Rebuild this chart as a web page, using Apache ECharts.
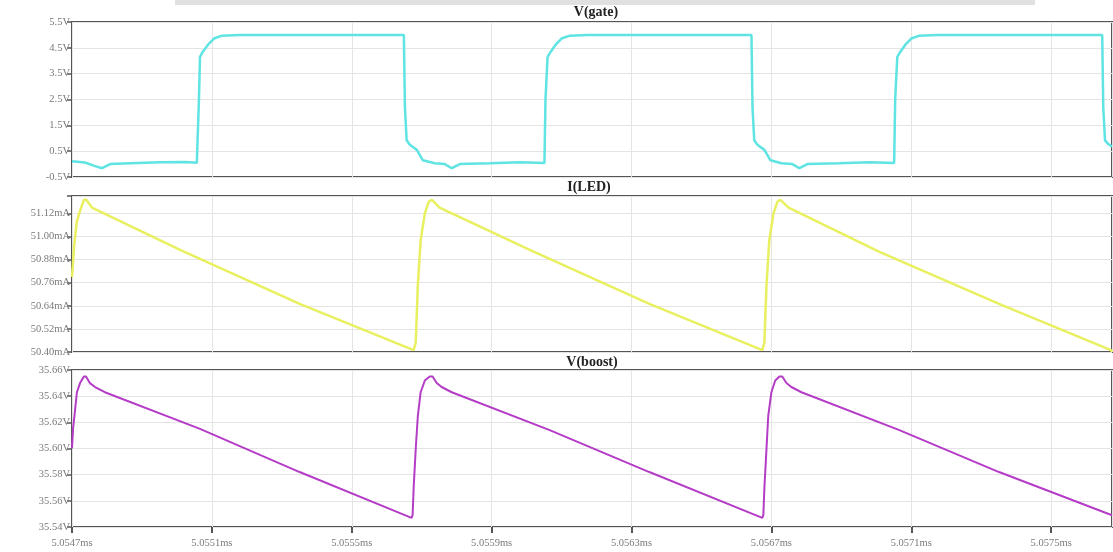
<!DOCTYPE html>
<html>
<head>
<meta charset="utf-8">
<script src="https://cdn.jsdelivr.net/npm/echarts@6/dist/echarts.min.js"></script>
<style>
  html, body { margin: 0; padding: 0; background: #ffffff; }
  #chart { width: 1113px; height: 552px; }
</style>
</head>
<body>
<div id="chart"></div>
<script>
// Time axis: nanoseconds after 5.0547 ms
const xTickLabels = ['5.0547ms', '5.0551ms', '5.0555ms', '5.0559ms', '5.0563ms', '5.0567ms', '5.0571ms', '5.0575ms'];
const xMaxNs = 2974;

// V(gate)
const gateT = [0, 37, 66, 86, 109, 166, 251, 323, 357, 363, 366, 374, 389, 406, 429, 480,
  949, 952, 957, 966, 986, 1003, 1037, 1066, 1086, 1109, 1194, 1280, 1351, 1354, 1360, 1369, 1383, 1400, 1423, 1474,
  1943, 1946, 1951, 1960, 1980, 1997, 2029, 2060, 2080, 2103, 2194, 2280, 2351, 2354, 2360, 2369, 2383, 2400, 2423, 2474,
  2946, 2949, 2954, 2963, 2974];
const gateV = [0.11, 0.06, -0.08, -0.16, 0.0, 0.03, 0.07, 0.08, 0.05, 2.5, 4.15, 4.35, 4.62, 4.86, 4.97, 5.0,
  5.0, 2.2, 0.92, 0.75, 0.55, 0.15, 0.03, 0.0, -0.16, 0.0, 0.03, 0.07, 0.04, 2.5, 4.15, 4.35, 4.62, 4.86, 4.97, 5.0,
  5.0, 2.2, 0.92, 0.75, 0.55, 0.15, 0.03, 0.0, -0.16, 0.0, 0.03, 0.07, 0.04, 2.5, 4.15, 4.35, 4.62, 4.86, 4.97, 5.0,
  5.0, 2.2, 0.92, 0.78, 0.68];

// I(LED) in mA
const ledT = [0, 6, 14, 26, 34, 41, 49, 57, 309, 651, 977, 983, 989, 997, 1009, 1020, 1029, 1034, 1051, 1309, 1651,
  1974, 1980, 1986, 1994, 2006, 2017, 2026, 2031, 2049, 2309, 2651, 2971, 2974];
const ledI = [50.79, 50.95, 51.08, 51.15, 51.19, 51.19, 51.17, 51.15, 50.93, 50.65, 50.41, 50.45, 50.75, 50.98, 51.12, 51.18, 51.19, 51.18, 51.15, 50.93, 50.65,
  50.41, 50.45, 50.75, 50.98, 51.12, 51.18, 51.19, 51.18, 51.15, 50.92, 50.65, 50.41, 50.40];

// V(boost)
const boostT = [0, 3, 9, 14, 23, 34, 40, 51, 66, 94, 366, 651, 971, 974, 977, 983, 989, 997, 1009, 1023, 1031, 1043, 1057, 1086, 1366, 1651,
  1974, 1977, 1980, 1986, 1991, 2000, 2011, 2023, 2031, 2043, 2057, 2086, 2366, 2651, 2974];
const boostV = [35.600, 35.615, 35.630, 35.643, 35.650, 35.655, 35.655, 35.650, 35.647, 35.643, 35.615, 35.582, 35.547, 35.549, 35.570, 35.600, 35.625, 35.643, 35.652, 35.655, 35.655, 35.650, 35.647, 35.643, 35.614, 35.582,
  35.547, 35.549, 35.570, 35.600, 35.625, 35.643, 35.652, 35.655, 35.655, 35.650, 35.647, 35.643, 35.614, 35.582, 35.549];

const panelTitles = ['V(gate)', 'I(LED)', 'V(boost)'];

function zip(a, b) { return a.map((v, i) => [v, b[i]]); }

const chart = echarts.init(document.getElementById('chart'), null, { renderer: 'canvas' });

const labelFont = { fontFamily: 'Liberation Serif', fontSize: 10.5, color: '#7a7a7a' };
const frame = { show: true, borderColor: '#555555', borderWidth: 2, backgroundColor: '#ffffff' };
const gridLine = { show: true, lineStyle: { color: '#e4e4e4', width: 1 } };

function xAxis(idx, showLabels) {
  return {
    type: 'value', gridIndex: idx, min: 0, max: xMaxNs, interval: 400,
    axisLine: { show: false },
    axisTick: { show: showLabels, length: 6, lineStyle: { color: '#555', width: 2 } },
    axisLabel: Object.assign({
      show: showLabels, margin: 11, showMaxLabel: false,
      formatter: v => { const k = Math.round(v / 400); return Math.abs(v - k * 400) < 1 ? (xTickLabels[k] || '') : ''; }
    }, labelFont),
    splitLine: gridLine
  };
}

function yAxis(idx, min, max, interval, decimals, unit) {
  return {
    type: 'value', gridIndex: idx, min: min, max: max, interval: interval,
    axisLine: { show: false },
    axisTick: { show: true, length: 5, lineStyle: { color: '#555', width: 1.5 } },
    axisLabel: Object.assign({
      margin: 2,
      formatter: v => {
        const k = Math.round((v - min) / interval);
        if (Math.abs(v - (min + k * interval)) > interval * 0.01) return '';
        return v.toFixed(decimals) + unit;
      }
    }, labelFont),
    splitLine: gridLine
  };
}

const option = {
  animation: false,
  backgroundColor: '#ffffff',
  grid: [
    Object.assign({ left: 72, right: 1, top: 22, height: 155 }, frame),
    Object.assign({ left: 72, right: 1, top: 196, height: 156 }, frame),
    Object.assign({ left: 72, right: 1, top: 370, height: 157 }, frame)
  ],
  title: [
    { text: panelTitles[0], left: 596, top: 5 },
    { text: panelTitles[1], left: 589, top: 180 },
    { text: panelTitles[2], left: 592, top: 355 }
  ].map(t => Object.assign(t, { textAlign: 'center', padding: 0, textStyle: { fontFamily: 'Liberation Serif', fontWeight: 'bold', fontSize: 14, color: '#222' } })),
  graphic: [
    { type: 'rect', shape: { x: 175, y: 0, width: 860, height: 5 }, style: { fill: '#e0e0e0' }, z: -1 }
  ],
  xAxis: [xAxis(0, false), xAxis(1, false), xAxis(2, true)],
  yAxis: [
    yAxis(0, -0.5, 5.5, 1, 1, 'V'),
    yAxis(1, 50.40, 51.21, 0.12, 2, 'mA'),
    yAxis(2, 35.54, 35.66, 0.02, 2, 'V')
  ],
  series: [
    { type: 'line', xAxisIndex: 0, yAxisIndex: 0, data: zip(gateT, gateV), showSymbol: false, symbol: 'none',
      lineStyle: { color: '#5fe3e3', width: 2.5 } },
    { type: 'line', xAxisIndex: 1, yAxisIndex: 1, data: zip(ledT, ledI), showSymbol: false, symbol: 'none',
      lineStyle: { color: '#e8f060', width: 2.5 } },
    { type: 'line', xAxisIndex: 2, yAxisIndex: 2, data: zip(boostT, boostV), showSymbol: false, symbol: 'none',
      lineStyle: { color: '#b43cc6', width: 2 } }
  ]
};

chart.setOption(option);
</script>
</body>
</html>
